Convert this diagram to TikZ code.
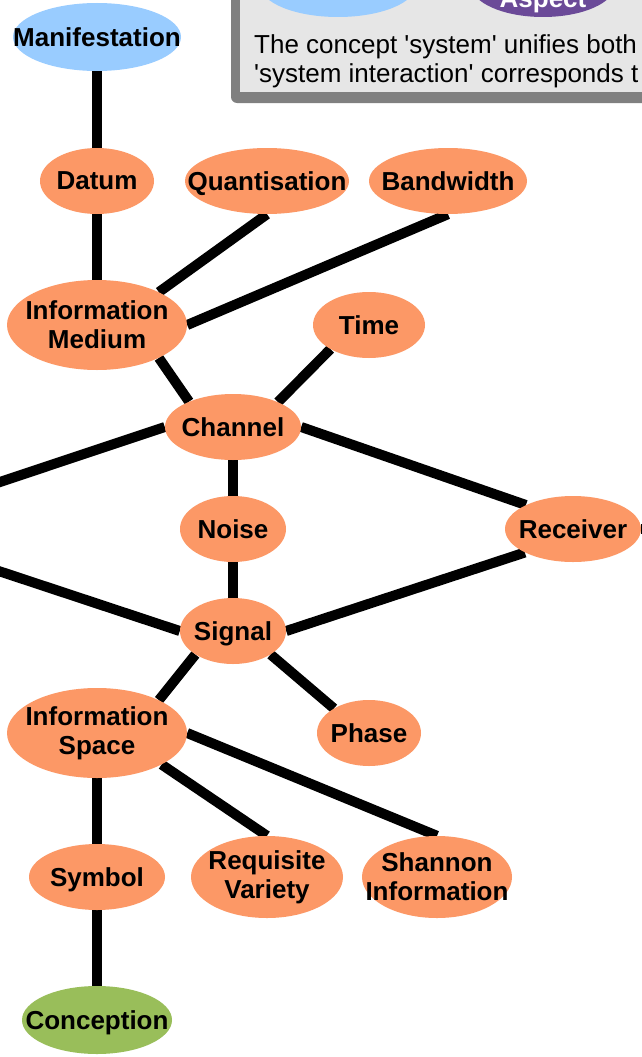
\documentclass[tikz,border=0pt]{standalone}
\usepackage{fontspec}
\setmainfont{Liberation Sans}[Ligatures=TeXOff]
\usetikzlibrary{shapes,backgrounds,positioning}

\definecolor{conceptorange}{RGB}{252,152,102}
\definecolor{manifblue}{RGB}{153,204,255}
\definecolor{conceptgreen}{RGB}{153,190,90}
\definecolor{aspectpurple}{RGB}{107,74,152}
\definecolor{keyfill}{RGB}{230,230,230}
\definecolor{keyborder}{RGB}{128,128,128}
\definecolor{bgyellow}{RGB}{228,228,62}

\begin{document}
\begin{tikzpicture}[x=1pt,y=-1pt]
\tikzstyle{concept}=[ellipse, fill=conceptorange, inner sep=0pt, minimum height=66pt]
\tikzstyle{every label}=[font=\bfseries\fontsize{26}{29}\selectfont, align=center, text=black]
\tikzstyle{link}=[draw=black, line width=10pt]
\useasboundingbox (0,0) rectangle (642,1057);
\clip (0,0) rectangle (642,1057);

% key box, top right
\fill[keyborder, rounded corners=6pt] (231,-40) rectangle (700,103);
\fill[keyfill] (240,-40) rectangle (700,92);
\node[ellipse, fill=manifblue, minimum width=156pt, minimum height=64pt] (keyblue) at (338,-15) {};
\node[ellipse, fill=aspectpurple, minimum width=144pt, minimum height=64pt,
      label={[text=white, yshift=-16pt]center:Aspect}] (keypurple) at (543,-15) {};
\node[anchor=base west, font=\fontsize{26}{29}\selectfont, inner sep=0pt] (keyline1) at (254,53)
  {The concept 'system' unifies both};
\node[anchor=base west, font=\fontsize{26}{29}\selectfont, inner sep=0pt] (keyline2) at (254,82)
  {'system interaction' corresponds t};

% concepts
\node[concept, fill=manifblue, minimum width=168pt, minimum height=68pt, label=center:Manifestation] (manif) at (97,37) {};
\node[concept, minimum width=114pt, label=center:Datum] (datum) at (97,181) {};
\node[concept, minimum width=164pt, label={[text depth=0pt]center:Quantisation}] (quant) at (267,181) {};
\node[concept, minimum width=158pt, label=center:Bandwidth] (band) at (448,181) {};
\node[concept, minimum width=180pt, minimum height=90pt, label={center:Information\\Medium}] (medium) at (97,325) {};
\node[concept, minimum width=112pt, label=center:Time] (time) at (369,325) {};
\node[concept, minimum width=136pt, label=center:Channel] (channel) at (233,427) {};
\node[concept, minimum width=106pt, label=center:Noise] (noise) at (233,529) {};
\node[concept, minimum width=136pt, label=center:Receiver] (receiver) at (573,529) {};
\node[concept, minimum width=106pt, label={[text depth=0pt]center:Signal}] (signal) at (233,631) {};
\node[concept, minimum width=180pt, minimum height=90pt, label={center:Information\\Space}] (space) at (97,733) {};
\node[concept, minimum width=104pt, label=center:Phase] (phase) at (369,733) {};
\node[concept, minimum width=136pt, label={[text depth=0pt]center:Symbol}] (symbol) at (97,877) {};
\node[concept, minimum width=152pt, minimum height=82pt, label={center:Requisite\\Variety}] (variety) at (267,877) {};
\node[concept, minimum width=150pt, minimum height=82pt, label={center:Shannon\\Information}] (shannon) at (437,877) {};
\node[concept, fill=conceptgreen, minimum width=150pt, minimum height=68pt, label={[text depth=0pt]center:Conception}] (conception) at (97,1020) {};

% loose ends, concepts outside the view
\coordinate (offleft1) at (-30,492);
\coordinate (offleft2) at (-30,561.5);
\coordinate (offright) at (660,529);

\begin{scope}[on background layer]
\shade[top color=white, middle color=bgyellow, bottom color=white] (0,0) rectangle (642,1057);
\path (manif.south) edge[link] (datum.north)
      (datum.south) edge[link] (medium.north)
      (quant.south) edge[link] (medium.28)
      (band.south) edge[link] (medium.east)
      (medium.332) edge[link] (channel.150)
      (time.212) edge[link] (channel.29)
      (channel.west) edge[link] (offleft1)
      (channel.east) edge[link] (receiver.153)
      (channel.south) edge[link] (noise.north)
      (noise.south) edge[link] (signal.north)
      (signal.west) edge[link] (offleft2)
      (signal.east) edge[link] (receiver.206)
      (receiver.east) edge[link] (offright)
      (signal.212) edge[link] (space.28)
      (signal.328) edge[link] (phase.145)
      (space.east) edge[link] (shannon.north)
      (space.334) edge[link] (variety.north)
      (space.south) edge[link] (symbol.north)
      (symbol.south) edge[link] (conception.north);
\end{scope}
\end{tikzpicture}
\end{document}
